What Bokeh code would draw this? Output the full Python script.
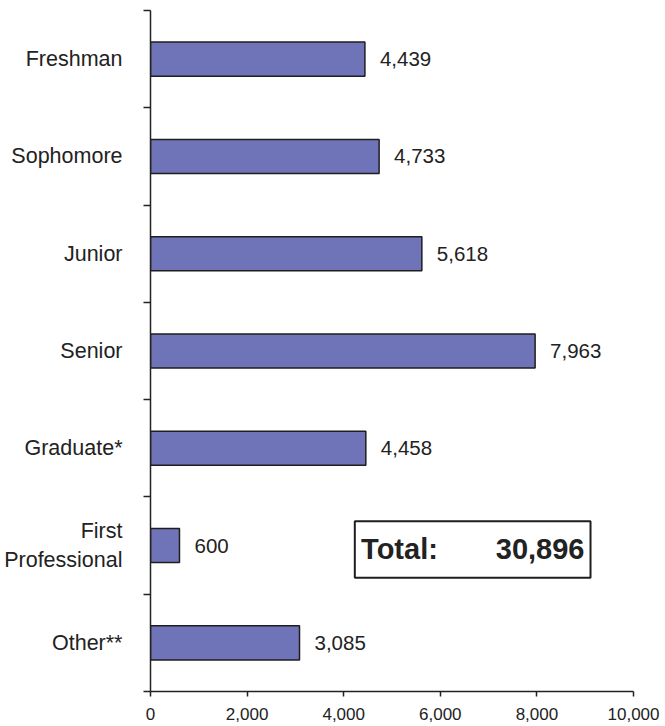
from bokeh.plotting import figure
from bokeh.models import FixedTicker, Label, BoxAnnotation, ColumnDataSource, NumeralTickFormatter
from bokeh.core.properties import value
from bokeh.embed import file_html
from bokeh.resources import INLINE

categories = ["Freshman", "Sophomore", "Junior", "Senior", "Graduate*", "First\nProfessional", "Other**"]
enrollment = [4439, 4733, 5618, 7963, 4458, 600, 3085]
x_ticks = [0, 2000, 4000, 6000, 8000, 10000]

FONT = "Liberation Sans"
n = len(categories)
ypos = [n - i - 0.5 for i in range(n)]
labels = [f"{v:,}" for v in enrollment]
total = sum(enrollment)

src = ColumnDataSource(dict(y=ypos, v=enrollment, lab=labels))

p = figure(width=665, height=726, x_range=(0, 10000), y_range=(0, n),
           output_backend="svg", toolbar_location=None,
           min_border_left=150, min_border_right=32, min_border_top=10, min_border_bottom=35)
p.outline_line_color = None
p.grid.grid_line_color = None
p.background_fill_color = "white"

p.hbar(y="y", right="v", left=0, height=0.35, source=src,
       fill_color="#6F74B8", line_color="#1e1e1e", line_width=1.5)
p.text(x="v", y="y", text="lab", source=src, x_offset=15,
       text_font=value(FONT), text_font_size="20.5px", text_baseline="middle",
       text_align="left", text_color="#222222")

# y axis
p.yaxis.ticker = FixedTicker(ticks=ypos, minor_ticks=list(range(n + 1)))
p.yaxis.major_label_overrides = {y: c for y, c in zip(ypos, categories)}
p.yaxis.major_tick_line_color = None
p.yaxis.minor_tick_out = 7
p.yaxis.minor_tick_in = 0
p.yaxis.minor_tick_line_color = "#222222"
p.yaxis.minor_tick_line_width = 1.5
p.yaxis.axis_line_color = "#222222"
p.yaxis.axis_line_width = 1.5
p.yaxis.major_label_standoff = 21
p.yaxis.major_label_text_font = FONT
p.yaxis.major_label_text_font_size = "21.5px"
p.yaxis.major_label_text_color = "#222222"

# x axis
p.xaxis.ticker = FixedTicker(ticks=x_ticks)
p.xaxis.formatter = NumeralTickFormatter(format="0,0")
p.xaxis.minor_tick_line_color = None
p.xaxis.major_tick_out = 5
p.xaxis.major_tick_in = 0
p.xaxis.major_tick_line_color = "#222222"
p.xaxis.major_tick_line_width = 1.5
p.xaxis.axis_line_color = "#222222"
p.xaxis.axis_line_width = 1.5
p.xaxis.major_label_standoff = 11
p.xaxis.major_label_text_font = FONT
p.xaxis.major_label_text_font_size = "17px"
p.xaxis.major_label_text_color = "#222222"

# total box
p.add_layout(BoxAnnotation(left=4230, right=9110, bottom=1.17, top=1.75,
                           fill_color="white", fill_alpha=1.0,
                           line_color="#1e1e1e", line_alpha=1.0, line_width=2))
p.add_layout(Label(x=4360, y=1.46, text="Total:", text_font=FONT, text_font_size="29px",
                   text_font_style="bold", text_baseline="middle", text_align="left",
                   text_color="#222222"))
p.add_layout(Label(x=8985, y=1.46, text=f"{total:,}", text_font=FONT, text_font_size="29px",
                   text_font_style="bold", text_baseline="middle", text_align="right",
                   text_color="#222222"))

open("out.html", "w").write(file_html(p, INLINE))
